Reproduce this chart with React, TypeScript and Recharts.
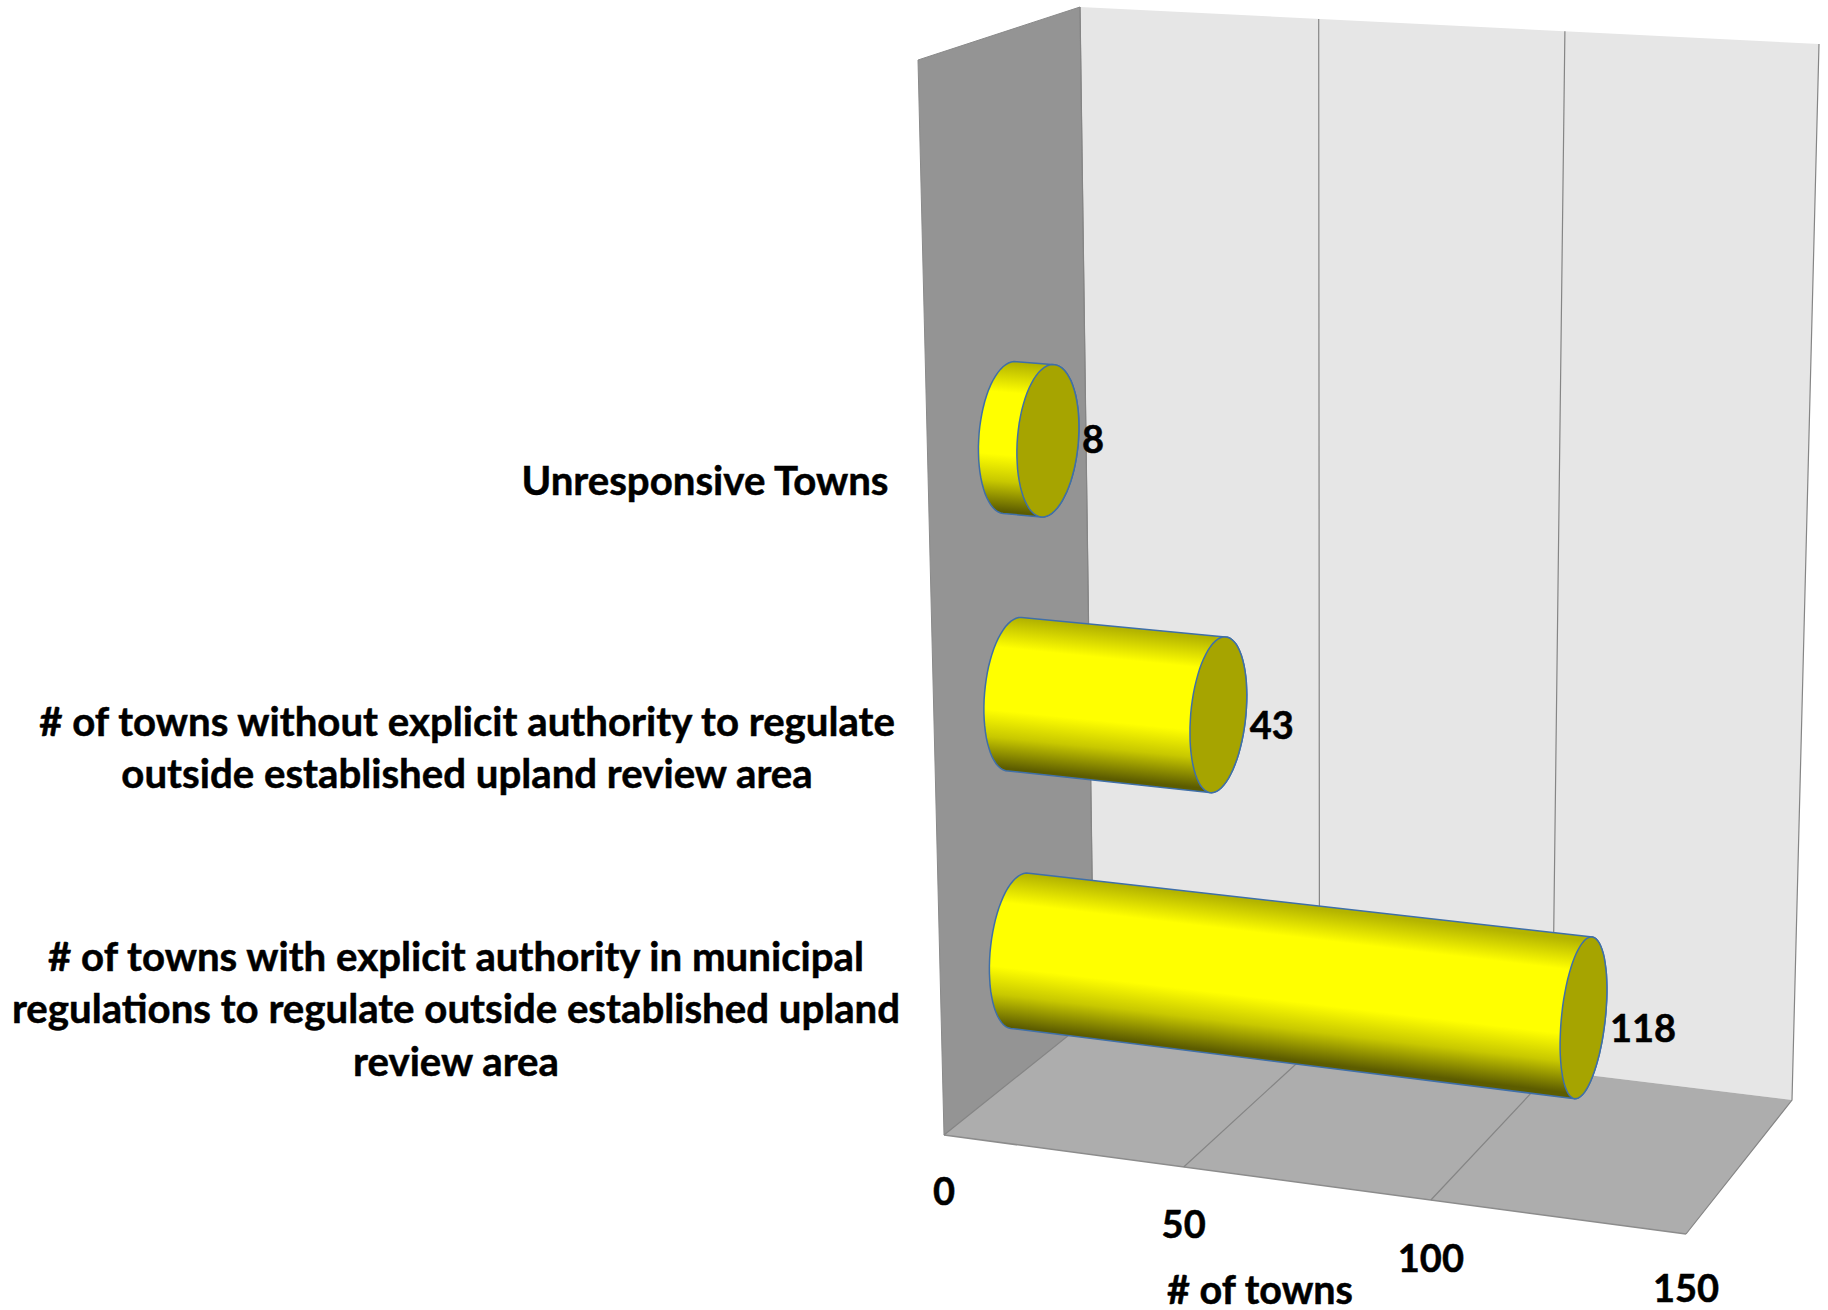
import { Bar, BarChart, CartesianGrid, XAxis, YAxis } from 'recharts';

const categoryLines = [
  ['Unresponsive Towns'],
  ['# of towns without explicit authority to regulate', 'outside established upland review area'],
  ['# of towns with explicit authority in municipal', 'regulations to regulate outside established upland', 'review area'],
];
const towns = [8, 43, 118];
const xTicks = [0, 50, 100, 150];
const xTitle = '# of towns';

const data = categoryLines.map((lines, i) => ({ name: lines.join(' '), towns: towns[i] }));

const FONT = 'Lato, sans-serif';
const FONT_SIZE = 40.2;
const DIGIT_SIZE = 38;
// Lato bold is a touch lighter than the picture's text
const textStyle = { fontFamily: FONT, fontWeight: 700, fill: '#000', stroke: '#000', strokeWidth: 0.5 };

// raw plot rectangle; everything the scales give back is projected into the 3D box
const RAW = { left: 1000, width: 700, top: 100, height: 1000 };

// box corners in page pixels: first key front/back, then left/right, then top/bottom
const BOX = {
  flt: [918, 60], frt: [1703, 111], flb: [944, 1135], frb: [1686, 1234],
  blt: [1080, 7], brt: [1819, 44], blb: [1094, 1015], brb: [1792, 1100],
};
const BAR_DEPTH = 0.52;

const mix = (a: number[], b: number[], t: number) => [a[0] + (b[0] - a[0]) * t, a[1] + (b[1] - a[1]) * t];

// u along the value axis, v top to bottom, w front to back
function project(u: number, v: number, w: number) {
  const k = u / (1.048 - 0.048 * u); // slight perspective along the axis
  const front = mix(mix(BOX.flt, BOX.frt, k), mix(BOX.flb, BOX.frb, k), v);
  const back = mix(mix(BOX.blt, BOX.brt, k), mix(BOX.blb, BOX.brb, k), v);
  return mix(front, back, w);
}

const toU = (x: number) => (x - RAW.left) / RAW.width;
const toV = (y: number) => (y - RAW.top) / RAW.height;
const pathOf = (pts: number[][], close = true) =>
  pts.map((p, i) => `${i ? 'L' : 'M'}${p[0].toFixed(1)} ${p[1].toFixed(1)}`).join(' ') + (close ? ' Z' : '');

function hull(points: number[][]) {
  const pts = [...points].sort((a, b) => a[0] - b[0] || a[1] - b[1]);
  const cross = (o: number[], a: number[], b: number[]) =>
    (a[0] - o[0]) * (b[1] - o[1]) - (a[1] - o[1]) * (b[0] - o[0]);
  const half = (list: number[][]) => {
    const out: number[][] = [];
    for (const p of list) {
      while (out.length >= 2 && cross(out[out.length - 2], out[out.length - 1], p) <= 0) out.pop();
      out.push(p);
    }
    out.pop();
    return out;
  };
  return [...half(pts), ...half([...pts].reverse())];
}

function cap(u: number, vc: number, rv: number) {
  const pts: number[][] = [];
  for (let i = 0; i < 72; i++) {
    const t = (i / 72) * Math.PI * 2;
    pts.push(project(u, vc + rv * Math.cos(t), BAR_DEPTH + 0.2 * Math.sin(t)));
  }
  return pts;
}

function CylinderBar(props: any) {
  const { x, y, width, height, index, payload } = props;
  const vc = toV(y + height / 2);
  const rv = height / 2 / RAW.height;
  const u0 = toU(x);
  const u1 = toU(x + width);
  const start = cap(u0, vc, rv);
  const end = cap(u1, vc, rv);
  const c0 = project(u0, vc, BAR_DEPTH);
  const c1 = project(u1, vc, BAR_DEPTH);
  const top = project(u1, vc - rv, BAR_DEPTH);
  const bottom = project(u1, vc + rv, BAR_DEPTH);
  // shading runs across the cylinder, square to its axis
  const len = Math.hypot(c1[0] - c0[0], c1[1] - c0[1]);
  const n = [-(c1[1] - c0[1]) / len, (c1[0] - c0[0]) / len];
  const half = ((bottom[0] - top[0]) * n[0] + (bottom[1] - top[1]) * n[1]) / 2;
  const id = `cyl${index}`;
  const rightEdge = Math.max(...end.map((p) => p[0]));
  return (
    <g>
      <defs>
        <linearGradient
          id={id}
          gradientUnits="userSpaceOnUse"
          x1={c1[0] - n[0] * half}
          y1={c1[1] - n[1] * half}
          x2={c1[0] + n[0] * half}
          y2={c1[1] + n[1] * half}
        >
          <stop offset="0%" stopColor="#b4b400" />
          <stop offset="20%" stopColor="#ffff00" />
          <stop offset="62%" stopColor="#ffff00" />
          <stop offset="80%" stopColor="#c8c800" />
          <stop offset="100%" stopColor="#5c5c00" />
        </linearGradient>
      </defs>
      <path d={pathOf(hull([...start, ...end]))} fill={`url(#${id})`} stroke="#3f6fa8" strokeWidth={1.5} />
      <path d={pathOf(end)} fill="#a6a400" stroke="#3f6fa8" strokeWidth={1.5} />
      <text
        x={rightEdge + 3}
        y={c1[1] + Math.min(9, 60 * (u1 - 0.1))}
        dominantBaseline="central"
        fontSize={DIGIT_SIZE}
        style={textStyle}
      >
        {payload.towns}
      </text>
    </g>
  );
}

function Walls() {
  const side = [project(0, 0, 0), project(0, 0, 1), project(0, 1, 1), project(0, 1, 0)];
  const back = [project(0, 0, 1), project(1, 0, 1), project(1, 1, 1), project(0, 1, 1)];
  const floor = [project(0, 1, 0), project(1, 1, 0), project(1, 1, 1), project(0, 1, 1)];
  return (
    <g>
      <path d={pathOf(back)} fill="#e6e6e6" />
      <path d={pathOf(side)} fill="#949494" stroke="#8a8a8a" strokeWidth={1} />
      <path d={pathOf(floor)} fill="#adadad" />
      <path d={pathOf([project(0, 1, 0), project(1, 1, 0)], false)} stroke="#8c8c8c" strokeWidth={1.5} fill="none" />
    </g>
  );
}

function gridLine(props: any) {
  const u = toU(props.x1);
  const pts = [project(u, 0, 1), project(u, 1, 1), project(u, 1, 0)];
  return (
    <path key={`grid-${props.index}`} d={pathOf(pts, false)} fill="none" stroke="#858585" strokeWidth={1.2} />
  );
}

function ValueTick(props: any) {
  const u = toU(props.x);
  const p = project(u, 1, 0);
  return (
    <text
      x={p[0]}
      y={Math.min(p[1] + 55 + 3 * u, 1287)}
      textAnchor="middle"
      dominantBaseline="central"
      fontSize={DIGIT_SIZE}
      style={textStyle}
    >
      {props.payload.value}
    </text>
  );
}

const LABEL_X = [705, 467, 456];
const LABEL_Y = [479, 720, 955];
const LINE_HEIGHT = 52.5;

function CategoryTick(props: any) {
  const i = props.index;
  return (
    <g>
      {categoryLines[i].map((line, k) => (
        <text
          key={line}
          x={LABEL_X[i]}
          y={LABEL_Y[i] + k * LINE_HEIGHT}
          textAnchor="middle"
          dominantBaseline="central"
          fontSize={FONT_SIZE}
          style={textStyle}
        >
          {line}
        </text>
      ))}
    </g>
  );
}

export default function App() {
  return (
    <div style={{ position: 'absolute', left: 0, top: 0, width: 1828, height: 1310, background: '#fff' }}>
      <BarChart
        width={1828}
        height={1310}
        data={data}
        layout="vertical"
        barCategoryGap="21%"
        margin={{ left: 700, right: 128, top: 366, bottom: 144 }}
      >
        <Walls />
        <CartesianGrid horizontal={false} vertical={gridLine} zIndex={1} />
        <XAxis
          type="number"
          domain={[0, 150]}
          ticks={xTicks}
          height={60}
          axisLine={false}
          tickLine={false}
          tick={ValueTick}
          interval={0}
        />
        <YAxis
          type="category"
          dataKey="name"
          width={300}
          axisLine={false}
          tickLine={false}
          tick={CategoryTick}
          interval={0}
        />
        <Bar dataKey="towns" shape={CylinderBar} isAnimationActive={false} />
        <text
          x={1260}
          y={1288}
          textAnchor="middle"
          dominantBaseline="central"
          fontSize={39.5}
          style={textStyle}
        >
          {xTitle}
        </text>
      </BarChart>
    </div>
  );
}
